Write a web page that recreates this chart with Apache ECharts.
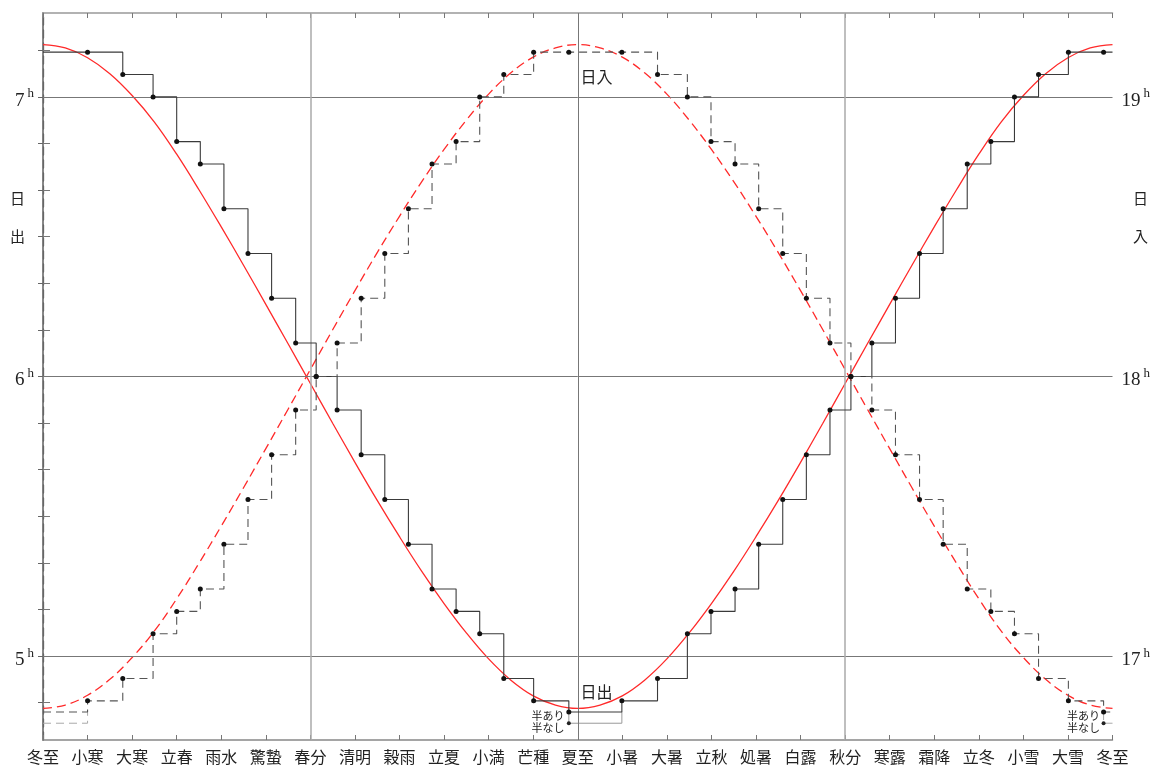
<!DOCTYPE html>
<html>
<head>
<meta charset="utf-8">
<script src="https://cdn.jsdelivr.net/npm/echarts@6/dist/echarts.min.js"></script>
<style>
  html, body { margin: 0; background: #fff; }
  #chart { width: 1153px; height: 769px; }
</style>
</head>
<body>
<div id="chart"></div>
<script>
// 二十四節気 (x axis, one per term)
const terms = ['冬至', '小寒', '大寒', '立春', '雨水', '驚蟄', '春分', '清明', '穀雨', '立夏', '小満', '芒種',
  '夏至', '小暑', '大暑', '立秋', '処暑', '白露', '秋分', '寒露', '霜降', '立冬', '小雪', '大雪', '冬至']

// smooth curves, read every half term (hours)
const curveTerms = [0, 0.5, 1, 1.5, 2, 2.5, 3, 3.5, 4, 4.5, 5, 5.5, 6, 6.5, 7, 7.5, 8, 8.5, 9, 9.5, 10, 10.5, 11, 11.5,
  12, 12.5, 13, 13.5, 14, 14.5, 15, 15.5, 16, 16.5, 17, 17.5, 18, 18.5, 19, 19.5, 20, 20.5, 21, 21.5, 22, 22.5,
  23, 23.5, 24]
const sunriseCurve = [7.187, 7.175, 7.14, 7.083, 7.005, 6.91, 6.795, 6.668, 6.535, 6.398, 6.258, 6.117, 5.975,
  5.833, 5.693, 5.557, 5.427, 5.303, 5.188, 5.083, 4.99, 4.914, 4.858, 4.825, 4.813, 4.825, 4.858, 4.914, 4.99,
  5.083, 5.188, 5.303, 5.427, 5.557, 5.693, 5.833, 5.975, 6.117, 6.258, 6.398, 6.535, 6.668, 6.795, 6.91, 7.005,
  7.083, 7.14, 7.175, 7.187]
const sunsetCurve = [16.813, 16.825, 16.86, 16.917, 16.995, 17.09, 17.205, 17.332, 17.465, 17.602, 17.742, 17.883,
  18.025, 18.167, 18.307, 18.443, 18.573, 18.697, 18.812, 18.917, 19.01, 19.086, 19.142, 19.175, 19.187, 19.175,
  19.142, 19.086, 19.01, 18.917, 18.812, 18.697, 18.573, 18.443, 18.307, 18.167, 18.025, 17.883, 17.742, 17.602,
  17.465, 17.332, 17.205, 17.09, 16.995, 16.917, 16.86, 16.825, 16.813]

// stepped table values: change points (in terms) and the value from there on
const stepTimes = [0, 1.0, 1.79, 2.47, 3.0, 3.53, 4.06, 4.6, 5.13, 5.67, 6.13, 6.6, 7.14, 7.67, 8.2, 8.73, 9.27,
  9.8, 10.34, 11.01, 11.8, 12.99, 13.79, 14.46, 14.99, 15.53, 16.06, 16.6, 17.13, 17.66, 18.13, 18.6, 19.13,
  19.67, 20.2, 20.74, 21.27, 21.8, 22.34, 23.01, 23.8, 24]
const sunriseSteps = [7.16, 7.16, 7.08, 7.0, 6.84, 6.76, 6.6, 6.44, 6.28, 6.12, 6.0, 5.88, 5.72, 5.56, 5.4, 5.24,
  5.16, 5.08, 4.92, 4.84, 4.8, 4.84, 4.92, 5.08, 5.16, 5.24, 5.4, 5.56, 5.72, 5.88, 6.0, 6.12, 6.28, 6.44, 6.6,
  6.76, 6.84, 7.0, 7.08, 7.16, 7.16, 7.16]
const sunsetSteps = [16.8, 16.84, 16.92, 17.08, 17.16, 17.24, 17.4, 17.56, 17.72, 17.88, 18.0, 18.12, 18.28, 18.44,
  18.6, 18.76, 18.84, 19.0, 19.08, 19.16, 19.16, 19.16, 19.08, 19.0, 18.84, 18.76, 18.6, 18.44, 18.28, 18.12,
  18.0, 17.88, 17.72, 17.56, 17.4, 17.24, 17.16, 17.08, 16.92, 16.84, 16.8, 16.8]

// 半なし variants
const sunriseHalfNone = [[11.8, 4.8], [11.8, 4.76], [12.99, 4.76], [12.99, 4.8]]
const sunsetHalfNoneStart = [[0, 16.76], [1.0, 16.76], [1.0, 16.8]]
const sunsetHalfNoneEnd = [[23.8, 16.8], [23.8, 16.76], [24, 16.76]]

// axes
const tickMinutes = [290, 300, 310, 320, 330, 340, 350, 360, 370, 380, 390, 400, 410, 420, 430]
const amLabels = [5, 6, 7]
const pmLabels = [17, 18, 19]

const amTicks = tickMinutes.map(m => m / 60)
const pmTicks = tickMinutes.map(m => m / 60 + 12)

const serif = 'Liberation Serif'
const cjk = '"Noto Sans CJK JP"'
const stepColor = '#3a3a3a'
const red = '#ff2a2a'

const stepData = values => stepTimes.map((t, i) => ({
  value: [t, values[i]],
  symbol: (i === 0 || i === stepTimes.length - 1) ? 'none' : 'circle'
}))

const hourLabel = {
  formatter: v => `{n|${Math.round(v)}}{s|h}`,
  rich: {
    n: { fontFamily: serif, fontSize: 19, color: '#222', padding: [8, 0, 0, 0] },
    s: { fontFamily: serif, fontSize: 13, color: '#222', padding: [0, 0, 6, 3] }
  }
}

const chart = echarts.init(document.getElementById('chart'))

chart.setOption({
  animation: false,
  grid: { left: 43, right: 38, top: 13, bottom: 29 },
  xAxis: [
    {
      type: 'value', min: 0, max: 24, interval: 1, position: 'bottom',
      axisLine: { lineStyle: { color: '#888', width: 1.5 } },
      axisTick: { inside: true, length: 5, lineStyle: { color: '#777' } },
      axisLabel: {
        formatter: v => terms[v] || '', margin: 9,
        fontFamily: cjk, fontSize: 16, color: '#222'
      },
      splitLine: { show: false }
    },
    {
      type: 'value', min: 0, max: 24, interval: 1, position: 'top',
      axisLine: { lineStyle: { color: '#999', width: 1.5 } },
      axisTick: { inside: true, length: 5, lineStyle: { color: '#777' } },
      axisLabel: { show: false },
      splitLine: { show: false }
    }
  ],
  yAxis: [
    {
      type: 'value', min: 4.7, max: 7.3, position: 'left',
      axisLine: { show: true, lineStyle: { color: '#888', width: 2 } },
      axisTick: { show: true, inside: true, length: 7, customValues: amTicks, lineStyle: { color: '#777' } },
      axisLabel: Object.assign({ customValues: amLabels, margin: 9 }, hourLabel),
      splitLine: { show: false }
    },
    {
      type: 'value', min: 16.7, max: 19.3, position: 'right',
      axisLine: { show: true, lineStyle: { color: '#666', width: 1.3, type: [8, 5] } },
      axisTick: { show: true, inside: true, length: 5, customValues: pmTicks, lineStyle: { color: '#666' } },
      axisLabel: Object.assign({ customValues: pmLabels, margin: 9 }, hourLabel),
      splitLine: { show: false }
    }
  ],
  graphic: [
    { type: 'text', left: 10, top: 191, style: { text: '日', font: `15px ${cjk}`, fill: '#222' } },
    { type: 'text', left: 10, top: 229, style: { text: '出', font: `15px ${cjk}`, fill: '#222' } },
    { type: 'text', left: 1133, top: 191, style: { text: '日', font: `15px ${cjk}`, fill: '#222' } },
    { type: 'text', left: 1133, top: 229, style: { text: '入', font: `15px ${cjk}`, fill: '#222' } }
  ],
  series: [
    {
      name: 'grid', type: 'line', data: [], xAxisIndex: 0, yAxisIndex: 0, z: 1,
      markLine: {
        silent: true, symbol: 'none', label: { show: false },
        data: [
          { yAxis: 5, lineStyle: { color: '#777', width: 1, type: 'solid' } },
          { yAxis: 6, lineStyle: { color: '#777', width: 1, type: 'solid' } },
          { yAxis: 7, lineStyle: { color: '#777', width: 1, type: 'solid' } },
          { xAxis: 6, lineStyle: { color: '#aaa', width: 1.5, type: 'solid' } },
          { xAxis: 12, lineStyle: { color: '#777', width: 1, type: 'solid' } },
          { xAxis: 18, lineStyle: { color: '#aaa', width: 1.5, type: 'solid' } }
        ]
      }
    },
    {
      name: '日出曲線', type: 'line', smooth: 0.4, symbol: 'none', z: 3,
      xAxisIndex: 0, yAxisIndex: 0,
      data: curveTerms.map((t, i) => [t, sunriseCurve[i]]),
      lineStyle: { color: red, width: 1.3 }
    },
    {
      name: '日入曲線', type: 'line', smooth: 0.4, symbol: 'none', z: 3,
      xAxisIndex: 0, yAxisIndex: 1,
      data: curveTerms.map((t, i) => [t, sunsetCurve[i]]),
      lineStyle: { color: red, width: 1.3, type: [9, 5] }
    },
    {
      name: '日出半なし', type: 'line', symbol: 'circle', symbolSize: 4, z: 4,
      xAxisIndex: 0, yAxisIndex: 0,
      data: sunriseHalfNone.map((p, i) => ({ value: p, symbol: i === 1 ? 'circle' : 'none' })),
      lineStyle: { color: '#999', width: 1 }, itemStyle: { color: '#222' }
    },
    {
      name: '日入半なし始', type: 'line', symbol: 'none', z: 4,
      xAxisIndex: 0, yAxisIndex: 1,
      data: sunsetHalfNoneStart,
      lineStyle: { color: '#aaa', width: 1, type: [8, 5] }
    },
    {
      name: '日入半なし終', type: 'line', symbol: 'circle', symbolSize: 4, z: 4,
      xAxisIndex: 0, yAxisIndex: 1,
      data: sunsetHalfNoneEnd.map((p, i) => ({ value: p, symbol: i === 1 ? 'circle' : 'none' })),
      lineStyle: { color: '#aaa', width: 1, type: [8, 5] }, itemStyle: { color: '#222' }
    },
    {
      name: '日出', type: 'line', step: 'end', symbol: 'circle', symbolSize: 5, z: 5,
      xAxisIndex: 0, yAxisIndex: 0,
      data: stepData(sunriseSteps),
      lineStyle: { color: stepColor, width: 1.1 }, itemStyle: { color: '#111' },
      markPoint: {
        symbol: 'circle', symbolSize: 0, silent: true,
        label: { show: true, position: 'inside', formatter: p => p.name, color: '#222', fontFamily: cjk },
        data: [
          { name: '日出', coord: [12.42, 4.871], label: { fontSize: 16 } },
          { name: '半あり', coord: [11.33, 4.785], label: { fontSize: 11 } },
          { name: '半なし', coord: [11.33, 4.742], label: { fontSize: 11 } }
        ]
      }
    },
    {
      name: '日入', type: 'line', step: 'end', symbol: 'circle', symbolSize: 5, z: 5,
      xAxisIndex: 0, yAxisIndex: 1,
      data: stepData(sunsetSteps),
      lineStyle: { color: '#555', width: 1.1, type: [8, 5] }, itemStyle: { color: '#111' },
      markPoint: {
        symbol: 'circle', symbolSize: 0, silent: true,
        label: { show: true, position: 'inside', formatter: p => p.name, color: '#222', fontFamily: cjk },
        data: [
          { name: '日入', coord: [12.42, 19.071], label: { fontSize: 16 } },
          { name: '半あり', coord: [23.35, 16.785], label: { fontSize: 11 } },
          { name: '半なし', coord: [23.35, 16.742], label: { fontSize: 11 } }
        ]
      }
    }
  ]
})
</script>
</body>
</html>
